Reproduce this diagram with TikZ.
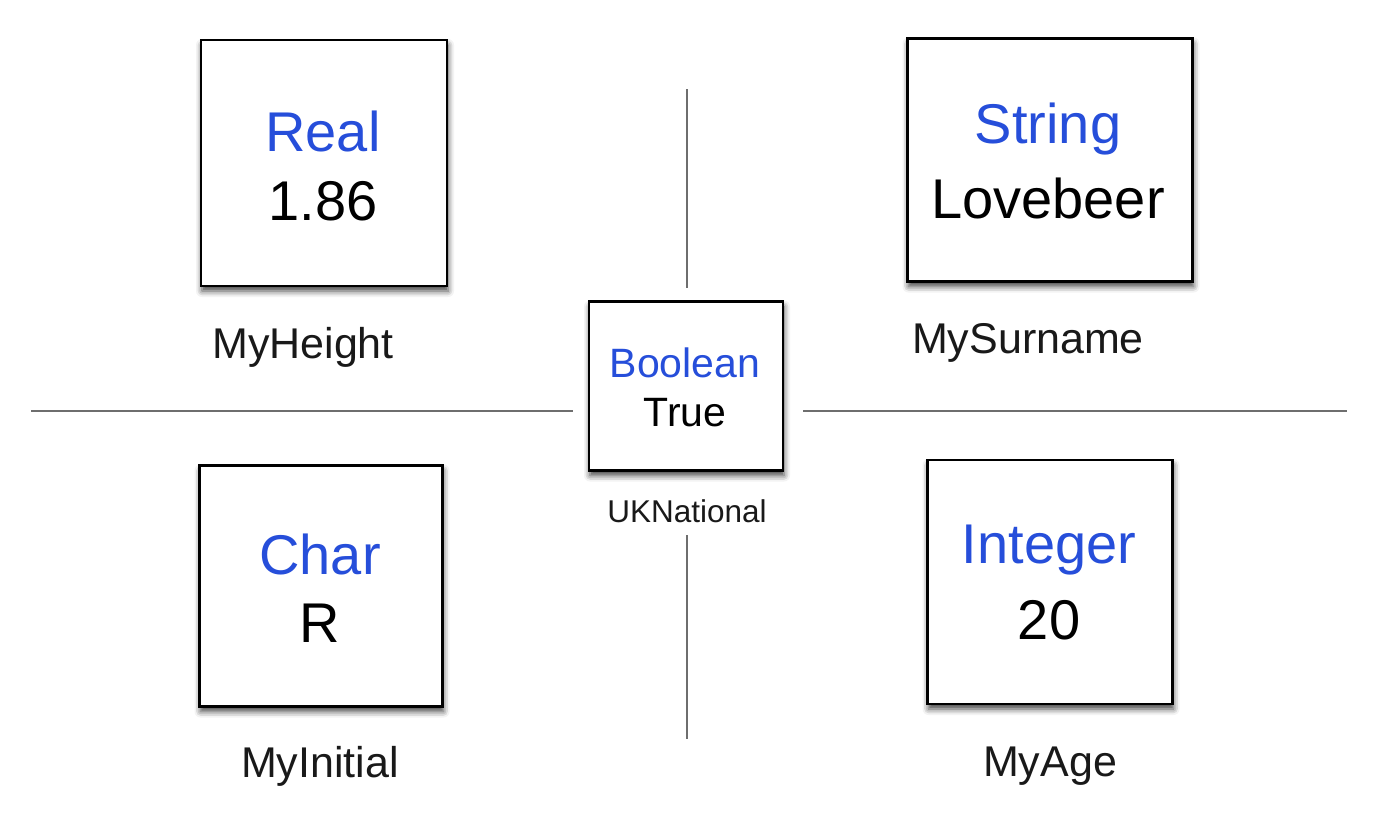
\documentclass[tikz,border=0pt]{standalone}
\usepackage{fontspec}
\setmainfont{Liberation Sans}
\usetikzlibrary{shadows.blur}
\definecolor{typeblue}{RGB}{38,78,218}
\definecolor{axisgray}{RGB}{110,110,110}
\begin{document}
\begin{tikzpicture}[x=1pt,y=-1pt,
  varbox/.style={draw=black, line width=2.2pt, fill=white, inner sep=0pt,
    blur shadow={shadow xshift=1pt, shadow yshift=-5pt, shadow blur radius=6pt, shadow opacity=75}},
  typetxt/.style={text=typeblue, font=\fontsize{56}{60}\selectfont, inner sep=0pt, anchor=center},
  valtxt/.style={text=black, font=\fontsize{56}{60}\selectfont, inner sep=0pt, anchor=center},
  smalltype/.style={text=typeblue, font=\fontsize{41}{44}\selectfont, inner sep=0pt, anchor=center},
  smallval/.style={text=black, font=\fontsize{41}{44}\selectfont, inner sep=0pt, anchor=center},
  nametxt/.style={text=black!90, font=\fontsize{43}{46}\selectfont, inner sep=0pt, anchor=center},
  axis/.style={draw=axisgray, line width=1.8pt}
]
\useasboundingbox (0,0) rectangle (1388,812);
% axes
\coordinate (hl1) at (31,411);
\coordinate (hl2) at (573,411);
\coordinate (hr1) at (803,411);
\coordinate (hr2) at (1347,411);
\coordinate (vt1) at (687,89);
\coordinate (vt2) at (687,288);
\coordinate (vb1) at (687,535);
\coordinate (vb2) at (687,739);
\draw[axis] (hl1) -- (hl2);
\draw[axis] (hr1) -- (hr2);
\draw[axis] (vt1) -- (vt2);
\draw[axis] (vb1) -- (vb2);
% Real
\node[varbox, minimum width=246pt, minimum height=246pt] (real) at (324,163) {};
\node[typetxt] (realT) at (323,131) {Real};
\node[valtxt] (realV) at (323,201) {1.86};
\node[nametxt] (realN) at (303,347) {MyHeight};
% String
\node[varbox, minimum width=285pt, minimum height=243pt] (str) at (1050,160) {};
\node[typetxt] (strT) at (1048,129) {String};
\node[valtxt] (strV) at (1048,198) {Lovebeer};
\node[nametxt] (strN) at (1028,343) {MySurname};
% Boolean
\node[varbox, minimum width=194pt, minimum height=169pt] (bool) at (686,386) {};
\node[smalltype] (boolT) at (685,363) {Boolean};
\node[smallval] (boolV) at (685,413) {True};
\node[nametxt, font=\fontsize{31.5}{34}\selectfont] (boolN) at (687,511) {UKNational};
% Char
\node[varbox, minimum width=243pt, minimum height=241pt] (chr) at (321,586) {};
\node[typetxt] (chrT) at (320,554) {Char};
\node[valtxt] (chrV) at (320,623) {R};
\node[nametxt] (chrN) at (320,766) {MyInitial};
% Integer
\node[varbox, minimum width=245pt, minimum height=244pt] (int) at (1050,582) {};
\node[typetxt] (intT) at (1049,550) {Integer};
\node[valtxt] (intV) at (1049,620) {20};
\node[nametxt] (intN) at (1050,766) {MyAge};
\end{tikzpicture}
\end{document}
